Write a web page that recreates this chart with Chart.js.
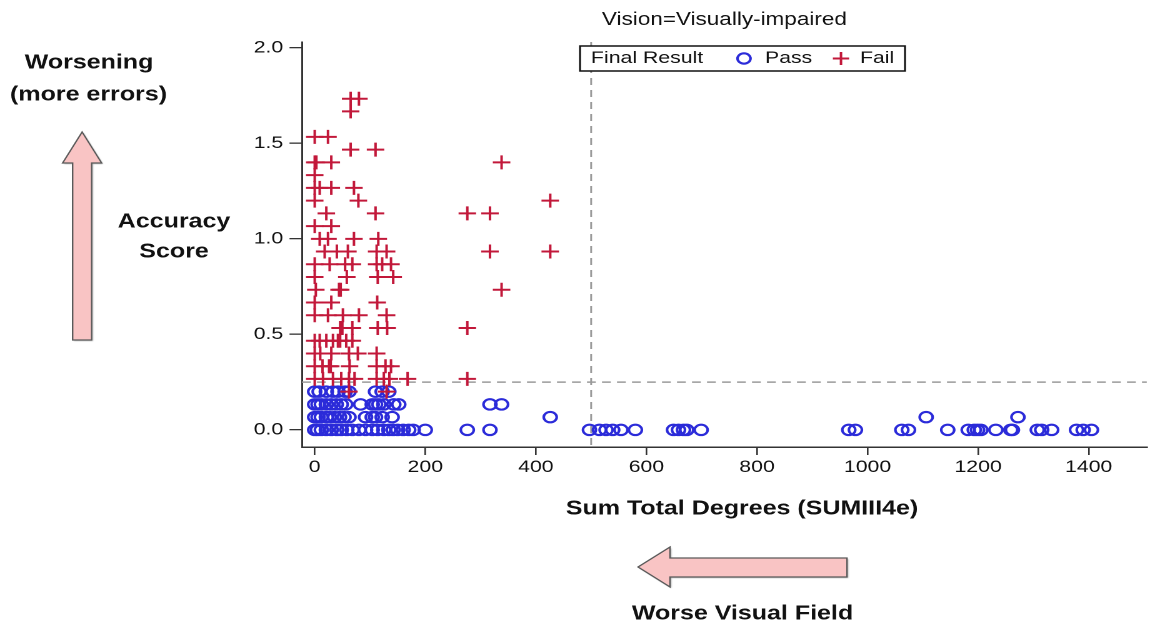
<!DOCTYPE html>
<html>
<head>
<meta charset="utf-8">
<script src="https://cdn.jsdelivr.net/npm/chart.js@4"></script>
<style>
  html, body { margin: 0; padding: 0; background: #fff; overflow: hidden; }
  /* the reference is stretched sideways, so the chart is drawn narrower and widened */
  #wrap { position: absolute; left: 0; top: 0; width: 926.4px; height: 626px; transform: scaleX(1.25); transform-origin: 0 0; }
</style>
</head>
<body>
<div id="wrap"><canvas id="chart"></canvas></div>
<script>
const degreeTicks = [0, 200, 400, 600, 800, 1000, 1200, 1400];
const scoreTicks = [0, 0.5, 1, 1.5, 2];
const cutScore = 0.25;
const cutDegrees = 500;

// Pass rows: accuracy score and the degree values found at that score
const passScores = [0.2, 0.1333, 0.0667, 0];
const passDegrees = [
  [0, 8, 21, 33, 42, 55, 62, 110, 122, 134],
  [0, 6, 12, 21, 30, 39, 48, 56, 83, 104, 110, 116, 125, 143, 152, 317, 338],
  [0, 6, 12, 21, 27, 36, 45, 53, 62, 92, 104, 110, 122, 140, 426, 1106, 1272],
  [0, 5, 12, 21, 30, 40, 48, 58, 68, 80, 92, 104, 114, 125, 134, 142, 150, 160, 170, 178, 200,
   276, 317, 497, 515, 527, 539, 554, 580, 649, 658, 667, 673, 699, 966, 978, 1062, 1074,
   1145, 1182, 1193, 1199, 1205, 1232, 1259, 1262, 1307, 1315, 1333, 1378, 1390, 1405]
];

// Fail rows
const failScores = [1.7333, 1.6667, 1.5333, 1.4667, 1.4, 1.3333, 1.2667, 1.2, 1.1333, 1.0667, 1.0,
  0.9333, 0.8667, 0.8, 0.7333, 0.6667, 0.6, 0.5333, 0.4667, 0.4, 0.3333, 0.2667, 0.2];
const failDegrees = [
  [65, 80],
  [65],
  [0, 24],
  [65, 110],
  [0, 3, 30, 338],
  [0],
  [0, 9, 30, 71],
  [0, 79, 426],
  [21, 110, 276, 317],
  [0, 30],
  [9, 24, 71, 115],
  [18, 40, 60, 112, 130, 317, 426],
  [0, 27, 55, 68, 112, 122, 138],
  [0, 58, 114, 142],
  [2, 44, 47, 338],
  [0, 30, 113],
  [0, 24, 51, 80, 130],
  [46, 50, 68, 114, 131, 276],
  [0, 9, 21, 33, 42, 46, 57, 68],
  [0, 10, 30, 62, 78, 112],
  [0, 14, 26, 29, 63, 112, 128, 138],
  [0, 15, 33, 48, 62, 72, 112, 125, 135, 168, 276],
  [62, 130]
];

const PASS_COLOR = '#2b2bd9';
const FAIL_COLOR = '#c2183a';
const FONT = "'Liberation Sans', Arial, sans-serif";

const toPoints = (scores, rows) =>
  rows.flatMap((row, i) => row.map(d => ({ x: d, y: scores[i] })));

Chart.defaults.font.family = FONT;
Chart.defaults.color = '#111';

function drawArrow(ctx, pts) {
  ctx.save();
  ctx.beginPath();
  pts.forEach(([x, y], i) => (i ? ctx.lineTo(x, y) : ctx.moveTo(x, y)));
  ctx.closePath();
  ctx.shadowColor = 'rgba(0,0,0,0.35)';
  ctx.shadowOffsetX = 2;
  ctx.shadowOffsetY = 2;
  ctx.shadowBlur = 3;
  ctx.fillStyle = '#f9c4c4';
  ctx.fill();
  ctx.shadowColor = 'transparent';
  ctx.strokeStyle = '#5a5a5a';
  ctx.lineWidth = 1.2;
  ctx.stroke();
  ctx.restore();
}

const refLines = {
  id: 'refLines',
  beforeDatasetsDraw(chart) {
    const { ctx, chartArea: a, scales: { x, y } } = chart;
    ctx.save();
    ctx.strokeStyle = '#9a9a9a';
    ctx.lineWidth = 1.5;
    ctx.setLineDash([7, 5]);
    const yy = y.getPixelForValue(cutScore);
    ctx.beginPath();
    ctx.moveTo(a.left, yy);
    ctx.lineTo(a.right, yy);
    const xx = x.getPixelForValue(cutDegrees);
    ctx.moveTo(xx, a.top);
    ctx.lineTo(xx, a.bottom);
    ctx.stroke();
    ctx.restore();
  }
};

const annotations = {
  id: 'annotations',
  afterDraw(chart) {
    const ctx = chart.ctx;
    const a = chart.chartArea;
    ctx.save();
    ctx.fillStyle = '#111';
    ctx.textBaseline = 'middle';
    ctx.textAlign = 'center';

    ctx.font = '18px ' + FONT;
    ctx.fillText('Vision=Visually-impaired', (a.left + a.right) / 2, 20);

    // legend box
    ctx.fillStyle = '#fff';
    ctx.fillRect(464, 46, 260, 25);
    ctx.strokeStyle = '#111';
    ctx.lineWidth = 1.5;
    ctx.strokeRect(464, 46, 260, 25);
    ctx.fillStyle = '#111';
    ctx.textAlign = 'left';
    ctx.font = '17px ' + FONT;
    ctx.fillText('Final Result', 472.8, 58.5);
    ctx.fillText('Pass', 612, 58.5);
    ctx.fillText('Fail', 688, 58.5);
    ctx.lineWidth = 2.1;
    ctx.strokeStyle = PASS_COLOR;
    ctx.beginPath();
    ctx.arc(595.2, 58.5, 5.2, 0, Math.PI * 2);
    ctx.stroke();
    ctx.strokeStyle = FAIL_COLOR;
    ctx.lineWidth = 2;
    ctx.beginPath();
    ctx.moveTo(666.3, 58.5); ctx.lineTo(679.3, 58.5);
    ctx.moveTo(672.8, 52); ctx.lineTo(672.8, 65);
    ctx.stroke();

    ctx.textAlign = 'center';
    ctx.font = 'bold 20px ' + FONT;
    ctx.fillText('Sum Total Degrees (SUMIII4e)', 593.6, 509);
    ctx.fillText('Worsening', 71.2, 63);
    ctx.fillText('(more errors)', 70.8, 95);
    ctx.fillText('Accuracy', 139.2, 222);
    ctx.fillText('Score', 139.2, 252);
    ctx.fillText('Worse Visual Field', 594, 614);
    ctx.restore();

    drawArrow(ctx, [[65.7, 132], [81.3, 163], [73.3, 163], [73.3, 340], [58.1, 340], [58.1, 163], [50.1, 163]]);
    drawArrow(ctx, [[510.4, 567], [536, 547], [536, 558], [677.6, 558], [677.6, 577], [536, 577], [536, 587]]);
  }
};

new Chart(document.getElementById('chart'), {
  type: 'scatter',
  data: {
    datasets: [
      {
        label: 'Fail',
        data: toPoints(failScores, failDegrees),
        pointStyle: 'cross',
        pointRadius: 7,
        borderColor: FAIL_COLOR,
        borderWidth: 2,
      },
      {
        label: 'Pass',
        data: toPoints(passScores, passDegrees),
        pointStyle: 'circle',
        pointRadius: 5.2,
        backgroundColor: 'transparent',
        borderColor: PASS_COLOR,
        borderWidth: 2.1,
      }
    ]
  },
  options: {
    responsive: true,
    maintainAspectRatio: false,
    animation: false,
    devicePixelRatio: 2,
    layout: { padding: { top: 42, right: 0, bottom: 0, left: 0 } },
    plugins: { legend: { display: false }, tooltip: { enabled: false } },
    scales: {
      x: {
        type: 'linear',
        min: -23,
        max: 1505,
        afterBuildTicks: s => { s.ticks = degreeTicks.map(v => ({ value: v })); },
        afterFit: s => { s.height = 179; },
        ticks: { font: { size: 17 }, padding: 2, maxRotation: 0, autoSkip: false, callback: v => String(v) },
        grid: { drawOnChartArea: false, tickLength: 8, color: '#333', lineWidth: 1.3 },
        border: { color: '#333', width: 1.5 }
      },
      y: {
        min: -0.0895,
        max: 2.03,
        afterBuildTicks: s => { s.ticks = scoreTicks.map(v => ({ value: v })); },
        afterFit: s => { s.width = 241.6; },
        ticks: { font: { size: 17 }, padding: 5, callback: v => v.toFixed(1) },
        grid: { drawOnChartArea: false, tickLength: 10, color: '#333', lineWidth: 1.3 },
        border: { color: '#333', width: 1.5 }
      }
    }
  },
  plugins: [refLines, annotations]
});
</script>
</body>
</html>
